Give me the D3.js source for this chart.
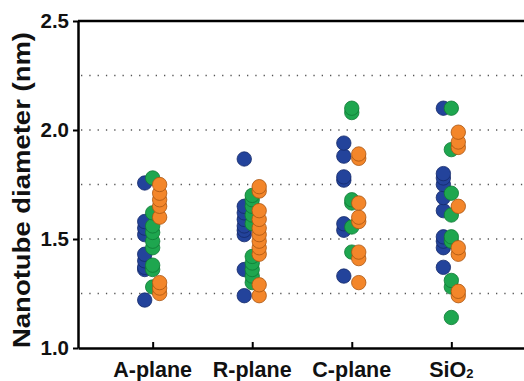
<!DOCTYPE html>
<html>
<head>
<meta charset="utf-8">
<script src="https://cdn.jsdelivr.net/npm/d3@7"></script>
<style>
	body { margin: 0; background: #fff; }
	text { font-family: "Liberation Sans", Arial, sans-serif; font-weight: bold; }
</style>
</head>
<body>
<svg width="524" height="381"></svg>
<script>
var categories = ["A-plane", "R-plane", "C-plane", "SiO2"];

// diameters (nm), one list per substrate
var blueVals = [
	[1.22, 1.36, 1.37, 1.40, 1.43, 1.52, 1.55, 1.58, 1.757],
	[1.24, 1.36, 1.52, 1.54, 1.56, 1.59, 1.62, 1.65, 1.867],
	[1.33, 1.54, 1.57, 1.77, 1.785, 1.88, 1.94],
	[1.37, 1.46, 1.49, 1.51, 1.63, 1.69, 1.75, 1.78, 1.80, 2.10]
];
var greenVals = [
	[1.28, 1.36, 1.38, 1.46, 1.49, 1.53, 1.56, 1.62, 1.78],
	[1.30, 1.33, 1.36, 1.39, 1.42, 1.57, 1.61, 1.65, 1.68, 1.70],
	[1.44, 1.555, 1.665, 1.68, 2.08, 2.10],
	[1.14, 1.28, 1.31, 1.49, 1.51, 1.61, 1.71, 1.91, 2.10]
];
var orangeVals = [
	[1.25, 1.275, 1.30, 1.60, 1.65, 1.68, 1.71, 1.75],
	[1.24, 1.29, 1.43, 1.46, 1.49, 1.52, 1.55, 1.59, 1.63, 1.72, 1.74],
	[1.30, 1.41, 1.44, 1.58, 1.60, 1.665, 1.87, 1.89],
	[1.24, 1.26, 1.43, 1.46, 1.65, 1.92, 1.945, 1.99]
];
var yTicks = [1.0, 1.5, 2.0, 2.5];
var gridVals = [1.25, 1.5, 1.75, 2.0, 2.25];

var series = [
	{name: "blue", vals: blueVals, fill: "#23439b", stroke: "#142a6a", dx: -0.08},
	{name: "green", vals: greenVals, fill: "#1ea64f", stroke: "#0f7a35", dx: 0},
	{name: "orange", vals: orangeVals, fill: "#f3862a", stroke: "#a95512", dx: 0.07}
];

var svg = d3.select("svg");

var x = d3.scaleLinear()
	.domain([0.25, 4.75])
	.range([78, 526]);

var y = d3.scaleLinear()
	.domain([1.0, 2.5])
	.range([348, 21]);

// dotted grid
svg.append("g")
	.selectAll("line")
	.data(gridVals).enter()
	.append("line")
	.attr("x1", x(0.25) + 3)
	.attr("x2", x(4.75))
	.attr("y1", function(d) { return y(d); })
	.attr("y2", function(d) { return y(d); })
	.attr("stroke", "#555")
	.attr("stroke-width", 1.3)
	.attr("stroke-dasharray", "1.3,7");

// dots
series.forEach(function(s) {
	var pts = [];
	s.vals.forEach(function(list, i) {
		list.forEach(function(v) { pts.push({c: i + 1, v: v}); });
	});
	svg.append("g")
		.attr("class", "dots-" + s.name)
		.selectAll("circle")
		.data(pts).enter()
		.append("circle")
		.attr("cx", function(d) { return x(d.c + s.dx); })
		.attr("cy", function(d) { return y(d.v); })
		.attr("r", 7.2)
		.attr("fill", s.fill)
		.attr("stroke", s.stroke)
		.attr("stroke-width", 0.8);
});

// axes
var yAxis = d3.axisLeft(y)
	.tickValues(yTicks)
	.tickFormat(d3.format(".1f"))
	.tickSizeInner(5)
	.tickSizeOuter(0)
	.tickPadding(4);

var gy = svg.append("g")
	.attr("transform", "translate(" + x(0.25) + ",0)")
	.call(yAxis);
gy.select(".domain").attr("stroke-width", 2.5);
gy.selectAll(".tick line").attr("stroke-width", 2);
gy.selectAll(".tick text")
	.attr("font-size", 20.5)
	.attr("fill", "#111");

var xAxis = d3.axisBottom(x)
	.tickValues([1, 2, 3, 4])
	.tickFormat("")
	.tickSizeInner(-6)
	.tickSizeOuter(0);

var gx = svg.append("g")
	.attr("transform", "translate(0," + y(1.0) + ")")
	.call(xAxis);
gx.select(".domain").attr("stroke-width", 2.5);
gx.selectAll(".tick line").attr("stroke-width", 2);

// top frame
svg.append("line")
	.attr("x1", x(0.25))
	.attr("x2", x(4.75))
	.attr("y1", y(2.5))
	.attr("y2", y(2.5))
	.attr("stroke", "#000")
	.attr("stroke-width", 2.5);

// category labels
var lab = svg.append("g")
	.selectAll("text")
	.data(categories).enter()
	.append("text")
	.attr("x", function(d, i) { return x(i + 1); })
	.attr("y", 377)
	.attr("text-anchor", "middle")
	.attr("font-size", 21.5)
	.attr("fill", "#111");

lab.each(function(d) {
	var t = d3.select(this);
	if (d === "SiO2") {
		t.append("tspan").text("SiO");
		t.append("tspan").attr("font-size", 13).attr("dy", 1).text("2");
	} else {
		t.text(d);
	}
});

// y title
svg.append("text")
	.attr("transform", "translate(30,190) rotate(-90)")
	.attr("text-anchor", "middle")
	.attr("font-size", 23)
	.attr("textLength", 316)
	.attr("lengthAdjust", "spacingAndGlyphs")
	.attr("fill", "#111")
	.text("Nanotube diameter (nm)");
</script>
</body>
</html>
